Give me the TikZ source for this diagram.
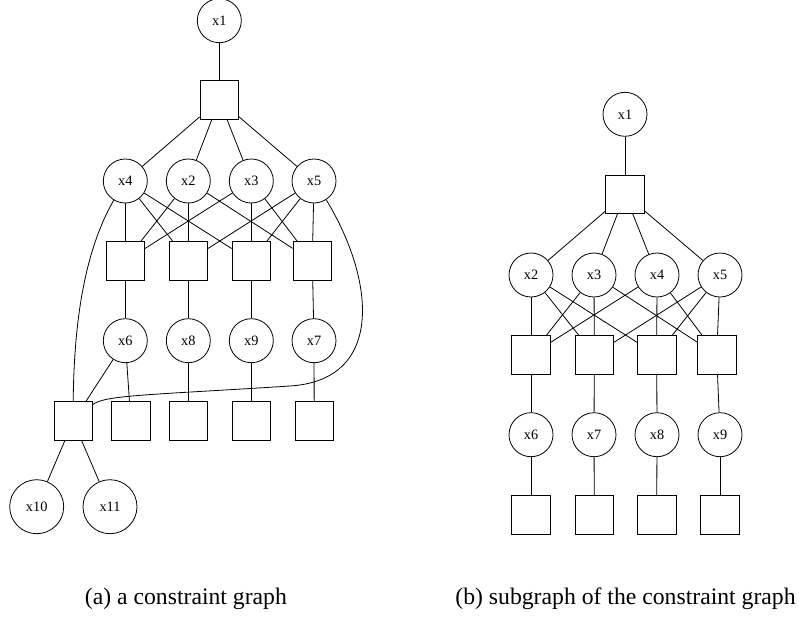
\documentclass[tikz,border=0pt]{standalone}
\usepackage{fontspec}
\setmainfont{Liberation Serif}
\usepackage{tikz}
\tikzset{
    var/.style={circle, draw=black, line width=0.8pt, minimum size=44pt, inner sep=0pt,
             font=\fontsize{14.3}{16}\selectfont},
    bigvar/.style={var, minimum size=54pt},
    factor/.style={rectangle, draw=black, line width=0.8pt, minimum size=38.5pt, inner sep=0pt},
    caption/.style={anchor=base west, inner sep=0pt, font=\fontsize{23.7}{28}\selectfont}
  }

\begin{document}
\begin{tikzpicture}[x=1pt, y=-1pt, line width=0.8pt]
 \useasboundingbox (0,0) rectangle (799,620);
 %% (a) a constraint graph
 %top
     \node[var] (ax1) at (219.3,20.7) {x1};
     \node[factor] (af0) at (219.3,100) {};
 %first row of variables
     \node[var] (ax4) at (125.3,181) {x4};
     \node[var] (ax2) at (188.3,181) {x2};
     \node[var] (ax3) at (251.3,181) {x3};
     \node[var] (ax5) at (314,181) {x5};
 %factors
     \node[factor] (af1) at (125.3,261) {};
     \node[factor] (af2) at (188.3,261) {};
     \node[factor] (af3) at (251.3,261) {};
     \node[factor] (af4) at (312.3,261) {};
 %second row of variables
     \node[var] (ax6) at (125.3,340.7) {x6};
     \node[var] (ax8) at (188.3,340.7) {x8};
     \node[var] (ax9) at (251.3,340.7) {x9};
     \node[var] (ax7) at (314,340.7) {x7};
 %bottom factors
     \node[factor] (ab1) at (73.2,421) {};
     \node[factor] (ab2) at (130.8,421) {};
     \node[factor] (ab3) at (188.3,421) {};
     \node[factor] (ab4) at (251.3,421) {};
     \node[factor] (ab5) at (314.2,421) {};
 %leaves
     \node[bigvar] (ax10) at (36.7,506.7) {x10};
     \node[bigvar] (ax11) at (110,506.7) {x11};
 %edges
     \draw (ax1) -- (af0);
     \draw (af0) -- (ax4);
     \draw (af0) -- (ax2);
     \draw (af0) -- (ax3);
     \draw (af0) -- (ax5);
     \draw (ax4) -- (af1);
     \draw (ax4) -- (af2);
     \draw (ax4) -- (af3);
     \draw (ax2) -- (af1);
     \draw (ax2) -- (af2);
     \draw (ax2) -- (af4);
     \draw (ax3) -- (af1);
     \draw (ax3) -- (af3);
     \draw (ax3) -- (af4);
     \draw (ax5) -- (af2);
     \draw (ax5) -- (af3);
     \draw (ax5) -- (af4);
     \draw (af1) -- (ax6);
     \draw (af2) -- (ax8);
     \draw (af3) -- (ax9);
     \draw (af4) -- (ax7);
     \draw (ax6) -- (ab1);
     \draw (ax6) -- (ab2);
     \draw (ax8) -- (ab3);
     \draw (ax9) -- (ab4);
     \draw (ax7) -- (ab5);
     \draw (ab1) -- (ax10);
     \draw (ab1) -- (ax11);
 %long curves
     \draw (ax4.239) .. controls (85,250) and (74,320) .. (ab1.north);
     \draw (ax5.303) .. controls (375,280) and (385,380) .. (290,386)
                     .. controls (150,395) and (105,395) .. (ab1.40);

 %% (b) subgraph of the constraint graph
 %top
     \node[var] (bx1) at (625,114.3) {x1};
     \node[factor] (bf0) at (625,194.3) {};
 %first row of variables
     \node[var] (bx2) at (531,275) {x2};
     \node[var] (bx3) at (594,275) {x3};
     \node[var] (bx4) at (657,275) {x4};
     \node[var] (bx5) at (720,275) {x5};
 %factors
     \node[factor] (bf1) at (531,354.8) {};
     \node[factor] (bf2) at (594.3,354.8) {};
     \node[factor] (bf3) at (656.7,354.8) {};
     \node[factor] (bf4) at (716.7,354.8) {};
 %second row of variables
     \node[var] (bx6) at (531,434.7) {x6};
     \node[var] (bx7) at (594,434.7) {x7};
     \node[var] (bx8) at (657,434.7) {x8};
     \node[var] (bx9) at (720,434.7) {x9};
 %bottom factors
     \node[factor] (bb1) at (531,515) {};
     \node[factor] (bb2) at (594.3,515) {};
     \node[factor] (bb3) at (656.7,515) {};
     \node[factor] (bb4) at (720,515) {};
 %edges
     \draw (bx1) -- (bf0);
     \draw (bf0) -- (bx2);
     \draw (bf0) -- (bx3);
     \draw (bf0) -- (bx4);
     \draw (bf0) -- (bx5);
     \draw (bx2) -- (bf1);
     \draw (bx2) -- (bf2);
     \draw (bx2) -- (bf3);
     \draw (bx3) -- (bf1);
     \draw (bx3) -- (bf2);
     \draw (bx3) -- (bf4);
     \draw (bx4) -- (bf1);
     \draw (bx4) -- (bf3);
     \draw (bx4) -- (bf4);
     \draw (bx5) -- (bf2);
     \draw (bx5) -- (bf3);
     \draw (bx5) -- (bf4);
     \draw (bf1) -- (bx6);
     \draw (bf2) -- (bx7);
     \draw (bf3) -- (bx8);
     \draw (bf4) -- (bx9);
     \draw (bx6) -- (bb1);
     \draw (bx7) -- (bb2);
     \draw (bx8) -- (bb3);
     \draw (bx9) -- (bb4);

 %% captions
     \node[caption] (capa) at (84.5,604) {(a) a constraint graph};
     \node[caption] (capb) at (455,604) {(b) subgraph of the constraint graph};
\end{tikzpicture}
\end{document}
